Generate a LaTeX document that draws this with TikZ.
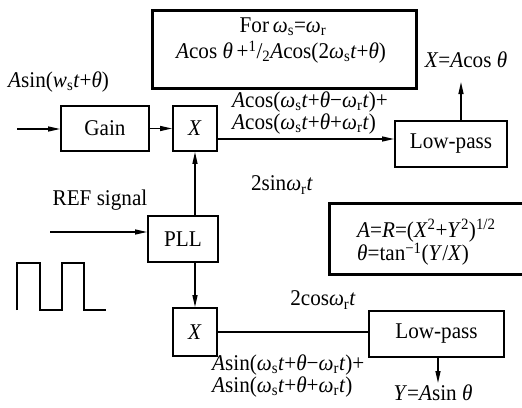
\documentclass[tikz,border=0pt]{standalone}
\usepackage{fontspec}
\setmainfont{Liberation Serif}[FakeStretch=0.94]
\usetikzlibrary{arrows.meta}
\newcommand\wS{\textit{ω}\textsubscript{s}}
\newcommand\wR{\textit{ω}\textsubscript{r}}
\newcommand\thA{\textit{θ}}
\begin{document}
\begin{tikzpicture}[x=1pt,y=-1pt,
  font=\fontsize{22.5}{20}\selectfont,
  blk/.style={draw, line width=1.8pt, inner sep=0pt},
  bigbox/.style={draw, line width=3pt, inner sep=0pt},
  conn/.style={line width=1.3pt, -{Triangle[length=12pt,width=5pt]}},
  wire/.style={line width=1.3pt},
  lbl/.style={inner sep=0pt, align=left}]
\useasboundingbox (0,0) rectangle (522,407);

% boxes
\node[bigbox, minimum width=264pt, minimum height=78pt] (topbox) at (284,49) {};
\node[lbl] (toptext1) at (283,27) {For\,\wS=\wR};
\node[lbl] (toptext2) at (281,52) {\textit{A}cos \thA\,+\textsuperscript{1}/\textsubscript{2}\textit{A}cos(2\wS\textit{t}+\thA)};

\node[blk, minimum width=88pt, minimum height=45pt] (gain) at (105,128.5) {Gain};
\node[blk, minimum width=44pt, minimum height=45pt] (x1) at (195,128.5) {\textit{X}};
\node[blk, minimum width=112pt, minimum height=46pt] (lp1) at (451,144) {Low-pass};
\node[blk, minimum width=70pt, minimum height=46pt] (pll) at (183,239) {PLL};
\node[blk, minimum width=44pt, minimum height=48pt] (x2) at (195,332) {\textit{X}};
\node[blk, minimum width=135pt, minimum height=46pt] (lp2) at (436.5,334) {Low-pass};
\node[bigbox, anchor=north west, minimum width=200pt, minimum height=71pt] (info) at (328,202) {};
\node[lbl, anchor=west, font=\fontsize{22.5}{19}\selectfont] (infotext) at (357,242.5) {\textit{A}=\textit{R}=(\textit{X}\textsuperscript{2}+\textit{Y}\textsuperscript{2})\textsuperscript{1/2}\\\thA=tan\textsuperscript{−1}(\textit{Y}/\textit{X})};

% labels
\node[lbl, anchor=west] (inlbl) at (8,82) {\textit{A}sin(\textit{w}\textsubscript{s}\textit{t}+\thA)};
\node[lbl, anchor=west] (upmix) at (232,113) {\textit{A}cos(\wS\textit{t}+\thA−\wR\textit{t})+\\\textit{A}cos(\wS\textit{t}+\thA+\wR\textit{t})};
\node[lbl] (xlbl) at (466,60) {\textit{X}=\textit{A}cos \thA};
\node[lbl] (sinlbl) at (282,185) {2sin\wR\textit{t}};
\node[lbl] (reflbl) at (100,200) {REF signal};
\node[lbl] (coslbl) at (323,300) {2cos\wR\textit{t}};
\node[lbl, anchor=west, font=\fontsize{22.5}{18}\selectfont] (lowmix) at (212,376) {\textit{A}sin(\wS\textit{t}+\thA−\wR\textit{t})+\\\textit{A}sin(\wS\textit{t}+\thA+\wR\textit{t})};
\node[lbl] (ylbl) at (433,393) {\textit{Y}=\textit{A}sin \thA};

% coordinates
\coordinate (in1) at (17,129);
\coordinate (ref) at (50,232);
\coordinate (m1) at (0,139);
\coordinate (xo) at (461,82);
\coordinate (yo) at (438,383);

% connectors
\draw[conn] (in1) -- (in1 -| gain.west);
\draw[conn] (gain.east) -- (x1.west);
\draw[conn] (x1.east |- m1) -- (lp1.west |- m1);
\draw[conn] (lp1.north -| xo) -- (xo);
\draw[conn] (pll.north -| x1.south) -- (x1.south);
\draw[conn] (ref) -- (ref -| pll.west);
\draw[conn] (pll.south -| x2.north) -- (x2.north);
\draw[wire] (x2.east) -- (x2.east -| lp2.west);
\draw[conn] (lp2.south -| yo) -- (yo);

% square wave
\draw[wire] (17,310) -- (17,263) -- (40,263) -- (40,310) -- (62,310) -- (62,263) -- (84,263) -- (84,310) -- (106,310);
\end{tikzpicture}
\end{document}
